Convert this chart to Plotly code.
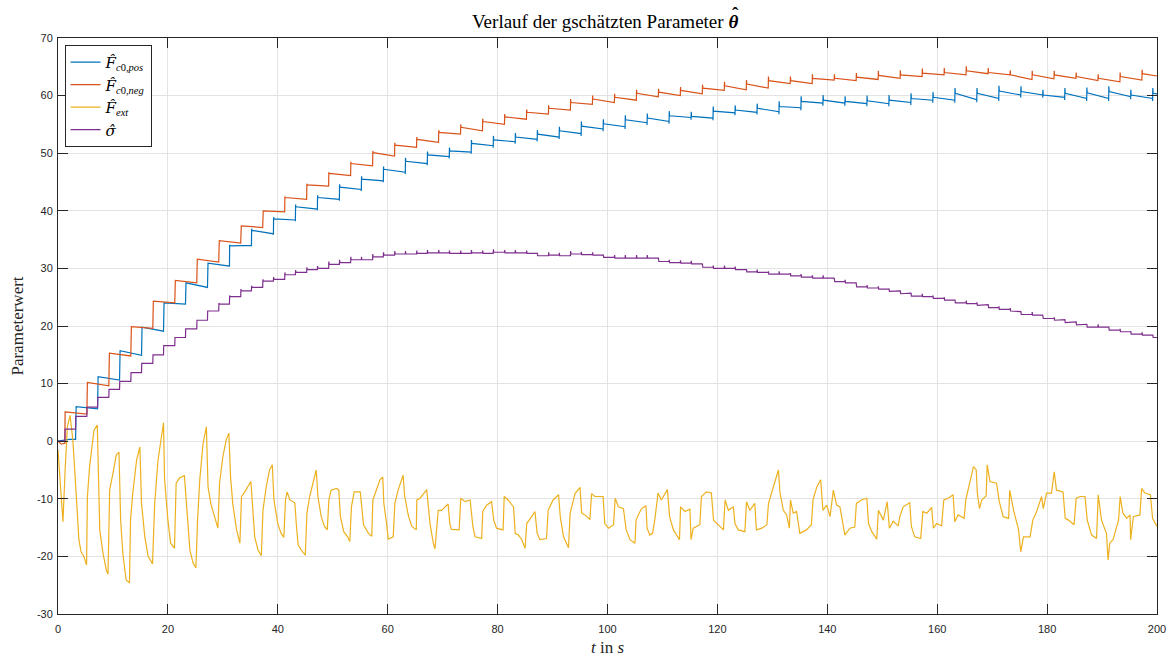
import plotly.graph_objects as go

# ---------------- data ----------------
# step instants of the two friction estimates (s)
t_neg = [1.25 + 4 * k for k in range(50)]
t_pos = [3.2 + 4 * k for k in range(50)]

# F_c0,neg : level just after each step / just before the next step
neg_start = [5.1, 10.2, 15.3, 19.9, 24.3, 27.9, 31.6, 34.8, 37.4, 40.0,
             42.3, 44.5, 46.5, 48.2, 50.1, 51.4, 52.4, 53.6, 54.5, 55.5,
             56.3, 57.1, 57.8, 58.8, 59.4, 59.7, 60.4, 60.6, 60.9, 61.3,
             61.7, 62.0, 62.6, 62.6, 63.0, 63.0, 63.2, 63.5, 63.6, 63.9,
             64.0, 64.3, 64.0, 63.6, 63.6, 63.6, 63.3, 63.0, 63.3, 63.8]
neg_end = [4.7, 9.6, 14.8, 19.6, 24.0, 27.5, 31.1, 34.4, 37.1, 39.8,
           42.0, 44.3, 46.1, 47.8, 49.5, 51.0, 51.9, 53.3, 53.9, 55.0,
           55.9, 56.8, 57.5, 58.5, 58.8, 59.2, 59.8, 60.0, 60.3, 60.9,
           61.0, 61.3, 62.1, 62.1, 62.7, 62.6, 62.8, 63.0, 63.3, 63.6,
           63.6, 63.8, 63.6, 62.8, 62.9, 63.0, 62.6, 62.4, 62.7, 63.4]
neg_spike = [0.0, 0.0, 0.0, 0.0, 0.0, 0.0, 0.0, 0.0, 0.0, 0.0,
             0.2, 0.2, 0.2, 0.3, 0.3, 0.4, 0.4, 0.4, 0.5, 0.5,
             0.5, 0.5, 0.5, 0.6, 0.6, 0.6, 0.6, 0.6, 0.6, 0.6,
             0.7, 0.7, 0.7, 0.7, 0.7, 0.7, 0.7, 0.8, 0.8, 0.8,
             0.8, 0.8, 0.8, 0.8, 0.7, 0.7, 0.7, 0.7, 0.7, 0.7]
neg_pre_t = [0.0, 0.6, 1.0]
neg_pre_v = [0.0, -0.5, -0.4]

# F_c0,pos
pos_start = [6.0, 11.2, 15.7, 19.8, 24.0, 27.5, 30.9, 33.9, 36.6, 38.6,
             40.7, 42.3, 44.1, 45.5, 47.2, 48.6, 49.7, 50.4, 51.7, 52.3,
             52.8, 53.3, 53.9, 54.7, 55.1, 55.8, 56.1, 56.5, 56.4, 57.3,
             57.5, 57.8, 58.1, 59.0, 59.2, 59.0, 59.1, 59.2, 59.5, 59.7,
             60.4, 60.4, 60.8, 60.7, 60.1, 60.4, 60.5, 60.7, 60.1, 60.4]
pos_end = [5.6, 10.6, 14.9, 19.1, 23.8, 26.7, 30.4, 34.0, 36.0, 38.4,
           40.3, 42.0, 43.7, 45.2, 46.7, 48.2, 49.4, 50.2, 51.3, 52.0,
           52.4, 52.8, 53.4, 54.2, 54.6, 55.3, 55.5, 56.2, 56.1, 57.0,
           57.1, 57.2, 57.9, 58.7, 58.7, 58.6, 58.6, 58.8, 59.2, 59.2,
           59.3, 59.5, 60.1, 60.1, 59.7, 59.5, 59.5, 59.8, 59.5, 60.3]
pos_spike = [0.0, 0.0, 0.0, 0.0, 0.0, 0.0, 0.0, 0.2, 0.3, 0.3,
             0.4, 0.4, 0.5, 0.5, 0.5, 0.6, 0.6, 0.6, 0.6, 0.7,
             0.7, 0.7, 0.7, 0.8, 0.8, 0.8, 0.8, 0.8, 0.8, 0.8,
             0.8, 0.8, 0.9, 0.9, 0.9, 0.9, 0.9, 0.9, 0.9, 0.9,
             0.9, 0.9, 0.9, 0.9, 0.9, 0.9, 0.9, 0.9, 0.9, 0.9]
pos_pre_t = [0.0, 2.0]
pos_pre_v = [0.0, 0.3]

# sigma : level after each of the (interleaved) steps
sigma_level = [2.1, 4.3, 5.9, 7.6, 9.0, 10.4, 11.9, 13.5, 15.0, 16.6,
               18.0, 19.5, 21.0, 22.6, 23.8, 25.1, 26.1, 26.7, 27.8, 28.1,
               28.9, 29.3, 29.8, 30.0, 30.7, 31.0, 31.5, 31.5, 32.0, 32.3,
               32.5, 32.5, 32.6, 32.7, 32.7, 32.6, 32.6, 32.7, 32.6, 32.8,
               32.7, 32.7, 32.6, 32.2, 32.3, 32.2, 32.5, 32.4, 32.3, 31.9,
               31.8, 31.8, 31.8, 31.8, 31.2, 31.0, 30.9, 30.8, 30.2, 30.0,
               30.0, 29.8, 29.4, 29.3, 29.0, 29.0, 28.7, 28.5, 28.3, 28.3,
               27.7, 27.5, 26.8, 26.6, 26.4, 26.0, 25.6, 25.2, 25.1, 24.8,
               24.5, 24.0, 23.9, 23.6, 23.2, 22.9, 22.6, 22.0, 21.9, 21.3,
               21.0, 20.6, 20.2, 19.8, 19.8, 19.3, 19.0, 18.6, 18.4, 18.0]
sigma_spike = [0.0, 0.0, 0.0, 0.0, 0.0, 0.0, 0.0, 0.0, 0.0, 0.0,
               0.0, 0.0, 0.0, 0.0, 0.2, 0.2, 0.3, 0.3, 0.3, 0.4,
               0.4, 0.4, 0.4, 0.4, 0.5, 0.5, 0.5, 0.5, 0.5, 0.5,
               0.5, 0.5, 0.5, 0.5, 0.5, 0.5, 0.5, 0.5, 0.5, 0.5,
               0.5, 0.5, 0.5, 0.5, 0.5, 0.5, 0.5, 0.5, 0.5, 0.5,
               0.5, 0.5, 0.5, 0.5, 0.5, 0.5, 0.5, 0.5, 0.5, 0.5,
               0.5, 0.5, 0.5, 0.5, 0.5, 0.5, 0.5, 0.5, 0.5, 0.5,
               0.5, 0.5, 0.5, 0.5, 0.5, 0.5, 0.5, 0.5, 0.5, 0.5,
               0.5, 0.5, 0.5, 0.5, 0.5, 0.5, 0.5, 0.5, 0.5, 0.5,
               0.5, 0.5, 0.5, 0.5, 0.5, 0.5, 0.5, 0.5, 0.5, 0.5]
sigma_pre_t = [0.0]
sigma_pre_v = [0.0]

# F_ext : sampled trace
t_ext = [0.0, 0.4, 0.9, 1.3, 1.7, 2.2, 2.7, 3.3, 3.8, 4.2, 4.7, 5.2, 5.35, 5.75, 6.1, 6.55, 7.15,
         7.3, 7.6, 8.2, 8.8, 9.1, 9.4, 10.0, 10.6, 11.1, 11.4, 11.8, 12.4, 13.0, 13.2, 13.6,
         14.3, 14.9, 15.2, 15.8, 16.4, 17.2, 17.6, 18.2, 18.9, 19.2, 19.4, 20.0, 20.5, 21.2,
         21.5, 22.1, 23.0, 23.4, 24.0, 24.6, 25.1, 25.4, 25.8, 26.4, 27.0, 27.3, 27.8, 28.4,
         29.1, 29.4, 30.0, 30.6, 31.1, 31.4, 31.8, 32.5, 33.1, 33.4, 34.0, 35.1, 35.3, 35.8,
         36.4, 37.0, 37.3, 37.9, 38.5, 39.0, 39.3, 40.0, 40.6, 41.1, 41.4, 41.7, 42.2, 43.1,
         43.4, 43.7, 44.3, 45.0, 45.3, 45.8, 46.4, 47.0, 47.3, 47.9, 48.5, 49.0, 49.3, 49.7,
         50.7, 51.1, 51.4, 52.0, 52.7, 53.1, 53.4, 53.9, 55.0, 55.3, 55.6, 56.5, 57.1, 57.3,
         58.0, 58.6, 59.1, 59.3, 59.8, 60.1, 61.0, 61.3, 61.9, 62.8, 63.1, 63.8, 64.4, 65.2,
         65.3, 65.9, 67.1, 67.4, 67.7, 68.3, 68.6, 69.2, 69.8, 71.0, 71.3, 71.6, 73.0, 73.3,
         74.1, 75.0, 75.5, 75.9, 77.1, 77.3, 78.0, 78.9, 79.3, 79.8, 81.0, 81.2, 81.9, 82.9,
         83.2, 83.8, 84.4, 85.0, 85.3, 86.2, 86.8, 87.2, 87.7, 88.9, 89.2, 90.1, 91.1, 91.4,
         92.0, 92.9, 93.2, 94.1, 95.0, 95.3, 95.9, 96.8, 97.1, 97.7, 99.2, 99.5, 100.2, 101.1,
         101.4, 102.0, 102.9, 103.4, 104.1, 105.0, 105.2, 105.6, 106.2, 107.0, 107.2, 107.7,
         108.2, 108.6, 109.2, 109.8, 110.9, 111.3, 112.0, 113.1, 113.3, 114.1, 115.0, 115.2,
         115.6, 116.8, 117.1, 118.0, 118.9, 119.3, 120.2, 121.1, 121.4, 122.0, 122.9, 123.2,
         123.8, 125.0, 125.3, 125.9, 126.8, 127.1, 128.1, 129.0, 129.3, 130.2, 131.1, 131.4,
         132.0, 132.6, 133.1, 133.3, 133.8, 134.4, 135.0, 136.2, 137.1, 137.4, 138.1, 138.8,
         139.2, 139.9, 140.5, 141.1, 141.7, 142.3, 143.2, 144.1, 145.0, 145.3, 146.2, 147.2,
         147.5, 148.1, 149.0, 149.3, 150.2, 150.9, 151.3, 152.0, 152.9, 153.2, 153.8, 155.0,
         155.3, 155.9, 157.0, 157.4, 158.1, 159.0, 159.3, 159.9, 160.8, 161.2, 162.0, 162.9,
         163.2, 163.8, 164.9, 165.2, 166.0, 166.6, 167.1, 167.3, 167.7, 168.1, 168.9, 169.1,
         169.6, 170.8, 171.3, 172.0, 173.0, 173.2, 173.9, 174.8, 175.2, 175.7, 176.9, 177.4,
         178.1, 179.0, 179.3, 179.9, 180.8, 181.3, 181.7, 182.9, 183.3, 183.9, 184.9, 185.3,
         186.0, 186.9, 187.3, 188.1, 189.0, 189.3, 189.9, 190.8, 191.1, 191.4, 192.0, 193.0,
         193.3, 193.8, 194.5, 195.1, 195.2, 195.7, 196.9, 197.2, 197.8, 198.8, 199.2, 200.0]
F_ext = [-1.5, -7.0, -14.0, -5.0, 2.5, 4.5, 0.2, -9.0, -17.1, -19.2, -20.0, -21.5, -9.6, -4.4, -1.5, 1.9, 2.8,
         -5.0, -15.4, -19.5, -22.4, -23.1, -8.5, -5.6, -2.4, -1.9, -13.7, -19.5, -24.1, -24.6, -13.7, -9.1,
         -3.3, -1.0, -10.8, -16.6, -20.0, -21.3, -10.8, -3.3, 1.9, 3.2, -6.7, -13.7, -17.7, -18.6,
         -7.3, -6.4, -6.0, -10.8, -18.9, -21.2, -22.0, -13.7, -6.7, -0.4, 2.5, -7.9, -10.8, -12.8,
         -15.1, -7.3, -2.7, 0.2, 1.4, -6.2, -10.8, -15.4, -17.7, -9.6, -8.8, -7.0, -10.2, -16.6,
         -18.9, -19.9, -12.0, -7.9, -5.0, -4.1, -10.2, -14.3, -16.0, -16.7, -10.2, -8.8, -10.2, -10.7,
         -14.8, -18.0, -18.9, -19.8, -12.5, -9.6, -7.3, -5.0, -9.6, -13.1, -14.8, -15.4, -10.2, -8.5,
         -8.2, -8.5, -13.1, -15.7, -16.6, -17.4, -11.4, -8.8, -8.8, -12.2, -14.5, -16.0, -16.5, -10.2,
         -8.5, -6.7, -6.2, -10.8, -14.3, -17.0, -16.6, -10.8, -8.5, -5.9, -9.6, -13.1, -14.8, -15.4,
         -10.2, -9.9, -8.4, -11.4, -14.3, -17.7, -18.7, -12.0, -12.0, -10.9, -14.3, -15.3, -15.4, -9.9,
         -10.5, -10.2, -14.8, -16.6, -16.9, -12.2, -11.1, -10.5, -13.7, -15.1, -15.4, -9.6, -10.2, -11.4,
         -16.0, -16.3, -17.1, -18.6, -14.3, -13.1, -12.2, -16.0, -17.1, -16.9, -12.0, -10.2, -9.3, -13.1,
         -16.6, -18.5, -12.5, -9.1, -8.0, -12.5, -12.8, -13.6, -9.1, -9.6, -9.6, -14.3, -15.1, -14.5,
         -9.9, -11.4, -11.7, -15.4, -17.1, -17.7, -13.7, -12.8, -11.7, -11.2, -15.1, -16.3,
         -16.0, -13.7, -9.0, -10.2, -8.4, -13.1, -15.4, -17.1, -11.4, -12.2, -11.8, -17.1,
         -15.1, -14.5, -9.6, -8.8, -9.0, -13.7, -14.5, -15.4, -10.2, -12.0, -11.4, -14.3,
         -15.4, -15.7, -10.5, -12.0, -10.8, -15.4, -15.1, -14.5, -10.8, -7.9, -5.0, -9.0,
         -12.0, -12.8, -15.1, -10.2, -12.5, -12.2, -16.0, -15.4, -14.5, -10.2, -7.9, -6.7,
         -12.0, -11.1, -13.1, -8.5, -11.1, -11.4, -16.3, -15.1, -14.9, -10.8, -10.2, -9.9,
         -14.3, -15.7, -17.0, -12.0, -13.7, -10.5, -15.1, -13.9, -14.7, -13.1, -11.4, -10.7,
         -14.8, -16.6, -16.9, -12.2, -12.5, -11.5, -15.1, -14.3, -14.7, -10.2, -9.9, -9.3,
         -14.0, -12.8, -13.4, -10.2, -6.7, -4.4, -5.0, -9.0, -11.7, -10.2, -9.5, -4.1,
         -7.0, -7.3, -10.5, -13.1, -13.4, -8.5, -12.0, -15.3, -19.2, -16.6, -16.6, -13.7,
         -12.2, -9.6, -11.7, -9.0, -9.0, -5.3, -8.5, -8.8, -13.4, -13.7, -14.5, -9.9,
         -9.6, -9.6, -13.7, -16.3, -16.9, -9.3, -13.7, -16.0, -20.6, -17.7, -17.1, -13.7,
         -9.6, -12.5, -13.4, -12.8, -17.1, -13.1, -12.8, -8.2, -9.0, -9.3, -13.4, -14.8]

x_tickvals = [0, 20, 40, 60, 80, 100, 120, 140, 160, 180, 200]
x_ticktext = ["0", "20", "40", "60", "80", "100", "120", "140", "160", "180", "200"]
y_tickvals = [-30, -20, -10, 0, 10, 20, 30, 40, 50, 60, 70]
y_ticktext = ["-30", "-20", "-10", "0", "10", "20", "30", "40", "50", "60", "70"]

T_END = 200.0


def build_steps(pre_t, pre_v, times, starts, ends, spikes, down=0.0):
    xs, ys = list(pre_t), list(pre_v)
    for k, t in enumerate(times):
        prev = ys[-1]
        t_next = times[k + 1] if k + 1 < len(times) else T_END
        xs += [t, t]
        ys += [prev, prev - down * spikes[k]]
        xs += [t + 0.04, t + 0.1, t_next]
        ys += [starts[k] + spikes[k], starts[k], ends[k]]
    return xs, ys


x_neg, y_neg = build_steps(neg_pre_t, neg_pre_v, t_neg, neg_start, neg_end, neg_spike)
x_pos, y_pos = build_steps(pos_pre_t, pos_pre_v, t_pos, pos_start, pos_end, pos_spike, down=0.5)
t_sig = sorted(t_neg + t_pos)
x_sig, y_sig = build_steps(sigma_pre_t, sigma_pre_v, t_sig, sigma_level, sigma_level, sigma_spike)

C_BLUE, C_RED, C_YEL, C_PUR = "#0072BD", "#D95319", "#EDB120", "#7E2F8E"
SERIF = "Liberation Serif, DejaVu Serif, serif"
HATFONT = "font-family:'DejaVu Serif'"

fig = go.Figure()
fig.add_trace(go.Scatter(x=x_pos, y=y_pos, mode="lines", line=dict(color=C_BLUE, width=1.2),
                         name=f"<span style=\"{HATFONT}\"><i>F\u0302</i></span><sub><i>c</i>0,<i>pos</i></sub>"))
fig.add_trace(go.Scatter(x=x_neg, y=y_neg, mode="lines", line=dict(color=C_RED, width=1.2),
                         name=f"<span style=\"{HATFONT}\"><i>F\u0302</i></span><sub><i>c</i>0,<i>neg</i></sub>"))
fig.add_trace(go.Scatter(x=t_ext, y=F_ext, mode="lines", line=dict(color=C_YEL, width=1.2),
                         name=f"<span style=\"{HATFONT}\"><i>F\u0302</i></span><sub><i>ext</i></sub>"))
fig.add_trace(go.Scatter(x=x_sig, y=y_sig, mode="lines", line=dict(color=C_PUR, width=1.2),
                         name=f"<span style=\"{HATFONT}\"><i>\u03c3\u0302</i></span>"))

axis_common = dict(showline=True, linecolor="#262626", linewidth=1, mirror="allticks",
                   ticks="inside", ticklen=10, tickcolor="#262626", tickwidth=1,
                   showgrid=True, gridcolor="#e3e3e3", gridwidth=1, zeroline=False,
                   automargin=False,
                   tickfont=dict(family="Liberation Sans, Arial, sans-serif", size=11, color="#262626"))

fig.update_xaxes(range=[0, 200], tickvals=x_tickvals, ticktext=x_ticktext, ticklabelstandoff=5,
                 title=dict(text="<i>t</i> in <i>s</i>", font=dict(family=SERIF, size=17, color="#262626"),
                            standoff=6),
                 **axis_common)
fig.update_yaxes(range=[-30, 70], tickvals=y_tickvals, ticktext=y_ticktext, ticklabelstandoff=2,
                 title=dict(text="Parameterwert", font=dict(family=SERIF, size=17, color="#262626"),
                            standoff=8),
                 **axis_common)

fig.update_layout(
    width=1175, height=657,
    margin=dict(l=58, r=18, t=38, b=43, autoexpand=False),
    paper_bgcolor="white", plot_bgcolor="white",
    title=dict(text="Verlauf der gschätzten Parameter <b><i>\u03b8</i></b>",
               x=0.515, xanchor="center", y=0.968, yanchor="middle",
               font=dict(family=SERIF, size=19, color="#000000")),
    showlegend=True,
    legend=dict(x=0.006, y=0.988, xanchor="left", yanchor="top",
                bgcolor="white", bordercolor="#262626", borderwidth=1,
                font=dict(family=SERIF, size=15, color="#000000"),
                tracegroupgap=0, itemwidth=30),
)
# circumflex accent over the bold theta of the title
fig.add_annotation(text="<b>\u02c6</b>", xref="paper", yref="paper", x=0.6165, y=1.043,
                   showarrow=False, xanchor="center", yanchor="middle",
                   font=dict(family=SERIF, size=19, color="#000000"))

fig.write_html("out.html")
